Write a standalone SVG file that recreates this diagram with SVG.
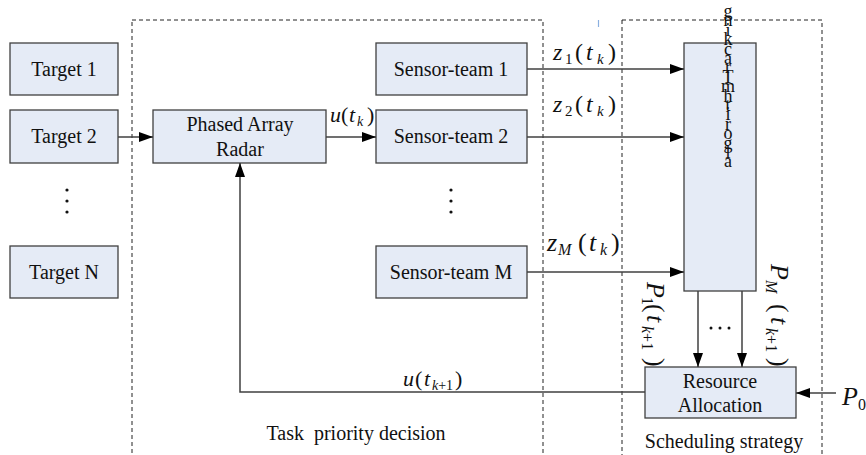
<svg xmlns="http://www.w3.org/2000/svg" width="866" height="455" viewBox="0 0 866 455">
<defs>
<marker id="ah" viewBox="0 0 14 10" refX="14" refY="5" markerWidth="14" markerHeight="10" markerUnits="userSpaceOnUse" orient="auto">
<path d="M0,0 L14,5 L0,10 Z" fill="#000"/>
</marker>
<style>
.box{fill:#e5ebf6;stroke:#404040;stroke-width:1.3}
.dash{fill:none;stroke:#222;stroke-width:1;stroke-dasharray:4,3}
.lbl{font-family:"Liberation Serif","Times New Roman",serif;font-size:20px;fill:#111;text-anchor:middle}
.cn{fill:none;stroke:#404040;stroke-width:1.5}
.m{font-family:"Liberation Serif","Times New Roman",serif;font-style:italic;fill:#111}
.up{font-style:normal}
.dot{fill:#111}
</style>
</defs>
<rect width="866" height="455" fill="#fff"/>

<g id="regions">
<rect class="dash" x="132" y="20" width="411" height="460"/>
<rect class="dash" x="622" y="20" width="200" height="460"/>
<text class="lbl" x="356" y="440">Task&#160; priority decision</text>
<text class="lbl" x="724" y="448">Scheduling strategy</text>
<line x1="598.5" y1="20" x2="598.5" y2="27" stroke="#8ab0e0" stroke-width="1.2"/>
</g>

<g id="target1"><rect class="box" x="10" y="43" width="108" height="52"/><text class="lbl" x="64" y="76">Target 1</text></g>
<g id="target2"><rect class="box" x="10" y="110" width="108" height="53"/><text class="lbl" x="64" y="143">Target 2</text></g>
<g id="targetDots"><circle class="dot" cx="67" cy="190" r="1.6"/><circle class="dot" cx="67" cy="201" r="1.6"/><circle class="dot" cx="67" cy="212" r="1.6"/></g>
<g id="targetN"><rect class="box" x="10" y="246" width="108" height="52"/><text class="lbl" x="64" y="279">Target N</text></g>

<g id="radar"><rect class="box" x="153" y="110" width="173" height="53"/><text class="lbl" x="240" y="131">Phased Array</text><text class="lbl" x="240" y="156">Radar</text></g>

<g id="sensor1"><rect class="box" x="376" y="43" width="151" height="52"/><text class="lbl" x="451" y="76">Sensor-team 1</text></g>
<g id="sensor2"><rect class="box" x="376" y="110" width="151" height="53"/><text class="lbl" x="451" y="143">Sensor-team 2</text></g>
<g id="sensorDots"><circle class="dot" cx="451" cy="190" r="1.6"/><circle class="dot" cx="451" cy="201" r="1.6"/><circle class="dot" cx="451" cy="212" r="1.6"/></g>
<g id="sensorM"><rect class="box" x="376" y="246" width="151" height="52"/><text class="lbl" x="451" y="279">Sensor-team M</text></g>

<g id="tracking"><rect class="box" x="684" y="43" width="72" height="248"/>
<text class="lbl" x="728" y="17" style="font-size:18px">g<tspan x="728" dy="9.4">n</tspan><tspan x="728" dy="9.4">i</tspan><tspan x="728" dy="9.4">k</tspan><tspan x="728" dy="9.4">c</tspan><tspan x="728" dy="9.4">a</tspan><tspan x="728" dy="9.4">r</tspan><tspan x="728" dy="9.4">T</tspan><tspan x="728" dy="9.4">m</tspan><tspan x="728" dy="9.4">h</tspan><tspan x="728" dy="9.4">t</tspan><tspan x="728" dy="9.4">i</tspan><tspan x="728" dy="9.4">r</tspan><tspan x="728" dy="9.4">o</tspan><tspan x="728" dy="9.4">g</tspan><tspan x="728" dy="9.4">l</tspan><tspan x="728" dy="9.4">a</tspan></text>
</g>

<g id="resource"><rect class="box" x="645" y="367" width="151" height="51"/><text class="lbl" x="720" y="388">Resource</text><text class="lbl" x="720" y="412">Allocation</text></g>

<g id="connectors">
<line class="cn" x1="118" y1="137" x2="153" y2="137" marker-end="url(#ah)"/>
<line class="cn" x1="326" y1="137" x2="376" y2="137" marker-end="url(#ah)"/>
<line class="cn" x1="527" y1="69" x2="684" y2="69" marker-end="url(#ah)"/>
<line class="cn" x1="527" y1="137" x2="684" y2="137" marker-end="url(#ah)"/>
<line class="cn" x1="527" y1="272" x2="684" y2="272" marker-end="url(#ah)"/>
<line class="cn" x1="698" y1="291" x2="698" y2="367" marker-end="url(#ah)"/>
<line class="cn" x1="742" y1="291" x2="742" y2="367" marker-end="url(#ah)"/>
<line class="cn" x1="836" y1="393" x2="796" y2="393" marker-end="url(#ah)"/>
<polyline class="cn" points="645,392 240,392 240,163" marker-end="url(#ah)"/>
<circle class="dot" cx="711" cy="328" r="1.5"/><circle class="dot" cx="720" cy="328" r="1.5"/><circle class="dot" cx="729" cy="328" r="1.5"/>
</g>

<g id="labels">
<text class="m" y="60" font-size="24"><tspan x="553">z</tspan><tspan x="565" y="64" font-size="15" class="up">1</tspan><tspan x="575" y="60" class="up">(</tspan><tspan x="586">t</tspan><tspan x="597" y="64" font-size="15">k</tspan><tspan x="608" y="60" class="up">)</tspan></text>
<text class="m" y="112" font-size="24"><tspan x="553">z</tspan><tspan x="565" y="116" font-size="15" class="up">2</tspan><tspan x="575" y="112" class="up">(</tspan><tspan x="586">t</tspan><tspan x="597" y="116" font-size="15">k</tspan><tspan x="608" y="112" class="up">)</tspan></text>
<text class="m" y="251" font-size="26"><tspan x="547">z</tspan><tspan x="558" y="255" font-size="16">M</tspan><tspan x="578" y="251" class="up">(</tspan><tspan x="589">t</tspan><tspan x="600" y="255" font-size="16">k</tspan><tspan x="611" y="251" class="up">)</tspan></text>
<text class="m" y="122" font-size="22"><tspan x="330">u</tspan><tspan x="341" class="up">(</tspan><tspan x="349">t</tspan><tspan x="357" y="126" font-size="14">k</tspan><tspan x="367" y="122" class="up">)</tspan></text>
<text class="m" y="386" font-size="22"><tspan x="403">u</tspan><tspan x="415" class="up">(</tspan><tspan x="424">t</tspan><tspan x="432" y="390" font-size="14">k</tspan><tspan class="up" font-size="14">+1</tspan><tspan x="455" y="386" class="up">)</tspan></text>
<text class="m" y="405" font-size="26"><tspan x="842">P</tspan><tspan x="858" y="410" font-size="16" class="up">0</tspan></text>
<text class="m" font-size="26" transform="translate(647,282) rotate(90)"><tspan x="0" y="0">P</tspan><tspan x="15" y="5" font-size="16" class="up">1</tspan><tspan x="22" y="0" class="up">(</tspan><tspan x="33">t</tspan><tspan x="44" y="5" font-size="16">k</tspan><tspan class="up" font-size="16">+1</tspan><tspan x="76" y="0" class="up">)</tspan></text>
<text class="m" font-size="26" transform="translate(771,264) rotate(90)"><tspan x="0" y="0">P</tspan><tspan x="16" y="5" font-size="16">M</tspan><tspan x="40" y="0" class="up">(</tspan><tspan x="53">t</tspan><tspan x="64" y="5" font-size="16">k</tspan><tspan class="up" font-size="16">+1</tspan><tspan x="94" y="0" class="up">)</tspan></text>
</g>
</svg>
